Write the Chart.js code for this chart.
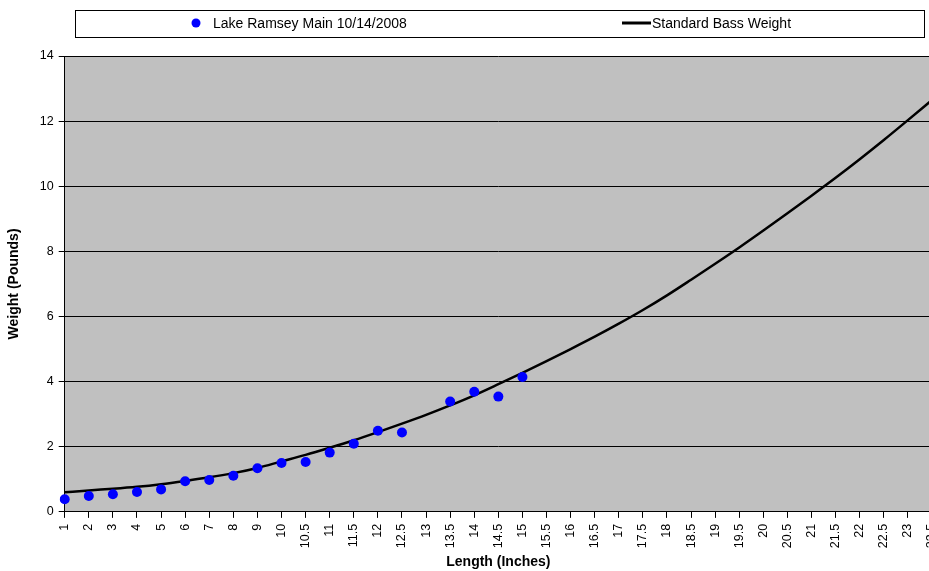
<!DOCTYPE html>
<html>
<head>
<meta charset="utf-8">
<script src="https://cdn.jsdelivr.net/npm/chart.js@4.4.0/dist/chart.umd.min.js"></script>
<style>
  body { margin: 0; overflow: hidden; background: #fff; }
  canvas { display: block; }
</style>
</head>
<body>
<canvas id="bassChart" width="960" height="571"></canvas>
<script>
// Chiều dài (inch) trên trục x
const lengthLabels = ['1', '2', '3', '4', '5', '6', '7', '8', '9', '10', '10.5', '11', '11.5', '12', '12.5',
    '13', '13.5', '14', '14.5', '15', '15.5', '16', '16.5', '17', '17.5', '18', '18.5', '19', '19.5',
    '20', '20.5', '21', '21.5', '22', '22.5', '23', '23.5'];

// Cân nặng thực tế - Lake Ramsey Main 10/14/2008 (13 inch không có cá)
const lakeRamseyWeights = [0.39, 0.49, 0.54, 0.61, 0.69, 0.94, 0.98, 1.11, 1.34, 1.50, 1.53, 1.82, 2.09,
    2.49, 2.44, null, 3.39, 3.69, 3.54, 4.14];

// Cân nặng chuẩn
const standardWeights = [0.6, 0.66, 0.71, 0.77, 0.85, 0.95, 1.06, 1.19, 1.35, 1.55, 1.75, 1.97, 2.2,
    2.45, 2.71, 2.98, 3.27, 3.58, 3.92, 4.27, 4.63, 5.0, 5.38, 5.78, 6.2, 6.65, 7.13, 7.62, 8.12, 8.64,
    9.17, 9.71, 10.26, 10.83, 11.42, 12.03, 12.65];

const weightTicks = [0, 2, 4, 6, 8, 10, 12, 14];

const FONT = 'Liberation Sans, Arial, sans-serif';

// Nền xám của vùng vẽ
const plotBg = {
    id: 'plotBg',
    beforeDraw(chart) {
        const a = chart.chartArea;
        const c = chart.ctx;
        c.save();
        c.fillStyle = '#c0c0c0';
        c.fillRect(a.left, a.top, a.right - a.left, a.bottom - a.top);
        c.restore();
    }
};

// Chú thích kiểu Excel: khung ở trên, hai mục chia đều
const boxLegend = {
    id: 'boxLegend',
    afterDraw(chart) {
        const c = chart.ctx;
        const ds = chart.data.datasets;
        c.save();
        c.strokeStyle = '#000';
        c.lineWidth = 1;
        c.strokeRect(75.5, 10.5, 849, 27);
        c.font = '14px ' + FONT;
        c.textBaseline = 'middle';
        c.fillStyle = '#000';

        c.beginPath();
        c.arc(196, 23, 4.5, 0, Math.PI * 2);
        c.fillStyle = ds[0].backgroundColor;
        c.fill();
        c.fillStyle = '#000';
        c.fillText(ds[0].label, 213, 24);

        c.beginPath();
        c.moveTo(622, 23);
        c.lineTo(651, 23);
        c.strokeStyle = ds[1].borderColor;
        c.lineWidth = 3;
        c.stroke();
        c.fillText(ds[1].label, 652, 24);
        c.restore();
    }
};

const ctx = document.getElementById('bassChart').getContext('2d');

const bassChart = new Chart(ctx, {
    type: 'line',
    data: {
        labels: lengthLabels,
        datasets: [{
            label: 'Lake Ramsey Main 10/14/2008',
            data: lakeRamseyWeights,
            showLine: false,
            backgroundColor: '#0000ff',
            borderColor: '#0000ff',
            pointRadius: 5,
            pointBorderWidth: 0,
            order: 1
        }, {
            label: 'Standard Bass Weight',
            data: standardWeights,
            borderColor: '#000000',
            borderWidth: 2.5,
            pointRadius: 0,
            cubicInterpolationMode: 'monotone',
            fill: false,
            order: 2
        }]
    },
    options: {
        responsive: false,
        animation: false,
        layout: { padding: { top: 56, left: 6, right: 28, bottom: 0 } },
        plugins: {
            legend: { display: false },
            tooltip: { enabled: false }
        },
        scales: {
            x: {
                offset: false,
                grid: { drawOnChartArea: false, drawTicks: true, tickLength: 6, tickColor: '#000' },
                border: { display: true, color: '#000', width: 1 },
                ticks: {
                    color: '#000',
                    font: { family: FONT, size: 12.5 },
                    maxRotation: 90,
                    minRotation: 90,
                    autoSkip: false,
                    padding: 6
                },
                title: {
                    display: true,
                    text: 'Length (Inches)',
                    color: '#000',
                    font: { family: FONT, size: 14, weight: 'bold' },
                    padding: { top: 0, bottom: 0 }
                }
            },
            y: {
                min: 0,
                max: 14,
                afterBuildTicks(scale) {
                    scale.ticks = weightTicks.map(v => ({ value: v }));
                },
                grid: { color: '#000', lineWidth: 1, drawTicks: true, tickLength: 6, tickColor: '#000' },
                border: { display: true, color: '#000', width: 1 },
                ticks: {
                    color: '#000',
                    font: { family: FONT, size: 12.5 },
                    padding: 5
                },
                title: {
                    display: true,
                    text: 'Weight (Pounds)',
                    color: '#000',
                    font: { family: FONT, size: 14, weight: 'bold' },
                    padding: { top: 0, bottom: 12 }
                }
            }
        }
    },
    plugins: [plotBg, boxLegend]
});
</script>
</body>
</html>
